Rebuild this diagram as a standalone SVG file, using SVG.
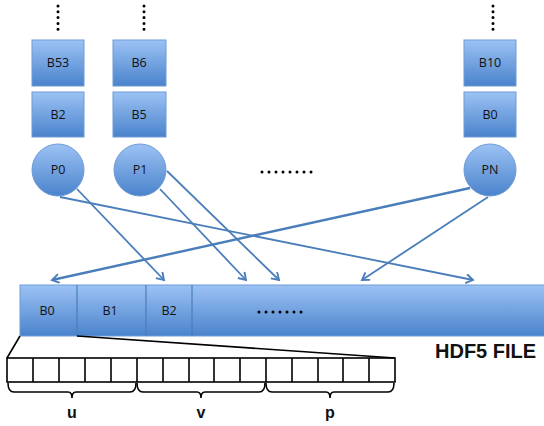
<svg xmlns="http://www.w3.org/2000/svg" width="544" height="426" viewBox="0 0 544 426">
<style>
.box{fill:url(#g);stroke:#6e9bd6;stroke-width:1}
.lbl{font-family:"Open Sans","Liberation Sans",sans-serif;font-size:12.5px;fill:#111;text-anchor:middle}
.con{stroke:#4a7ebb;stroke-width:1.8;fill:none;marker-end:url(#ah)}
.dot{stroke:#000;stroke-width:3;stroke-linecap:round;stroke-dasharray:0 5.8;fill:none}
.dot7{stroke:#000;stroke-width:3;stroke-linecap:round;stroke-dasharray:0 7;fill:none}
.blk{stroke:#000;stroke-width:1.6;fill:none}
.big{font-family:"Liberation Sans",Arial,sans-serif;font-weight:bold;font-size:20px;fill:#111}
.ul{font-family:"Liberation Sans",Arial,sans-serif;font-weight:bold;font-size:16px;fill:#111;text-anchor:middle}
</style>
<defs>
<linearGradient id="g" x1="0" y1="0" x2="0" y2="1">
<stop offset="0" stop-color="#9cc2f4"/>
<stop offset="1" stop-color="#4a83cc"/>
</linearGradient>
<marker id="ah" markerWidth="12" markerHeight="12" refX="8" refY="5" orient="auto" markerUnits="userSpaceOnUse">
<path d="M1,0.5 L8,5 L1,9.5" fill="none" stroke="#4a7ebb" stroke-width="1.9"/>
</marker>
</defs>
<rect width="544" height="426" fill="#fff"/>
<g id="dots-top">
<path class="dot" d="M58,6 V35"/>
<path class="dot" d="M144,6 V35"/>
<path class="dot" d="M493,6 V35"/>
</g>
<g id="B53"><rect class="box" x="32" y="40" width="52" height="46"/><text class="lbl" x="58" y="67">B53</text></g>
<g id="B2top"><rect class="box" x="32" y="92" width="52" height="45"/><text class="lbl" x="58" y="119">B2</text></g>
<g id="P0"><circle class="box" cx="58" cy="170" r="26"/><text class="lbl" x="58" y="174">P0</text></g>
<g id="B6"><rect class="box" x="113" y="40" width="53" height="46"/><text class="lbl" x="139" y="67">B6</text></g>
<g id="B5"><rect class="box" x="113" y="92" width="53" height="45"/><text class="lbl" x="139" y="119">B5</text></g>
<g id="P1"><circle class="box" cx="140" cy="170" r="26"/><text class="lbl" x="140" y="174">P1</text></g>
<g id="B10"><rect class="box" x="464" y="40" width="52" height="46"/><text class="lbl" x="490" y="67">B10</text></g>
<g id="B0top"><rect class="box" x="464" y="92" width="52" height="45"/><text class="lbl" x="490" y="119">B0</text></g>
<g id="PN"><circle class="box" cx="490" cy="170" r="26"/><text class="lbl" x="490" y="174">PN</text></g>
<g id="mid-dots"><path class="dot7" d="M262,172 H312"/></g>
<g id="file">
<rect class="box" x="20" y="285" width="530" height="51"/>
<path d="M77,285 V336 M146,285 V336 M192,285 V336" stroke="#4a7ebb" stroke-width="1.2"/>
<text class="lbl" x="47" y="315">B0</text>
<text class="lbl" x="110" y="315">B1</text>
<text class="lbl" x="169" y="315">B2</text>
<path class="dot7" d="M259,312 H308"/>
<text class="big" x="435" y="358">HDF5 FILE</text>
</g>
<g id="connectors">
<path class="con" d="M77,189 L164,280"/>
<path class="con" d="M60,197 L473,280"/>
<path class="con" d="M160,189 L246,280"/>
<path class="con" d="M167,171 L279,280"/>
<path class="con" style="stroke-width:2.4" d="M470,188 L52,280"/>
<path class="con" d="M488,197 L362,280"/>
</g>
<g id="zoom">
<path class="blk" d="M20,336 L7,358 M77,336 L395,358"/>
<rect class="blk" x="7" y="358" width="388" height="24"/>
<path class="blk" d="M33,358V382M59,358V382M85,358V382M111,358V382M137,358V382M163,358V382M189,358V382M214,358V382M240,358V382M266,358V382M292,358V382M318,358V382M343,358V382M369,358V382"/>
<path class="blk" d="M8,383 Q8,392 14,392 H68 Q72,392 72,398 Q72,392 76,392 H130 Q136,392 136,383"/>
<path class="blk" d="M137,383 Q137,392 143,392 H197 Q201,392 201,398 Q201,392 205,392 H259 Q265,392 265,383"/>
<path class="blk" d="M266,383 Q266,392 272,392 H326 Q330,392 330,398 Q330,392 334,392 H388 Q394,392 394,383"/>
<text class="ul" x="72" y="418">u</text>
<text class="ul" x="201" y="418">v</text>
<text class="ul" x="330" y="418">p</text>
</g>
</svg>
